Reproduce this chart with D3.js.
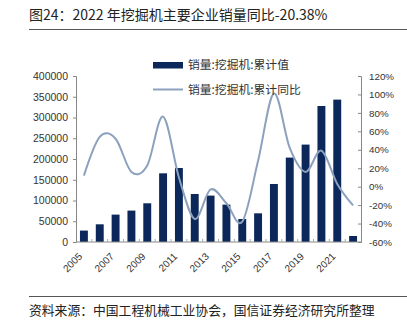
<!DOCTYPE html>
<html>
<head>
<meta charset="utf-8">
<script src="https://cdn.jsdelivr.net/npm/d3@7"></script>
<style>
  body { margin: 0; background: #fff; }
  svg { display: block; }
</style>
</head>
<body>
<svg id="chart" width="407" height="329"></svg>
<script>
const years = d3.range(2005, 2023).map(String);
const salesValues = [27500, 42600, 66000, 75700, 93300, 165500, 178300, 115700, 111800, 90100,
  55400, 69100, 139800, 203400, 234700, 327700, 343100, 14500];
const yoyValues = [12, 54, 52, 16, 23, 76, 10, -35, -3, -18, -38, 28, 101, 42, 16, 39, 3, -20.38];
const leftTicks = d3.range(0, 400001, 50000);
const rightTicks = d3.range(-60, 121, 20);
const xLabelYears = ['2005', '2007', '2009', '2011', '2013', '2015', '2017', '2019', '2021'];

const barColor = '#0c2759';
const lineColor = '#8ca1bd';
const textColor = '#333';
const cjk = '"Noto Sans CJK SC", sans-serif';
const latin = '"Liberation Sans", Arial, sans-serif';

const svg = d3.select('#chart');

// title + rules
svg.append('text')
  .attr('x', 29).attr('y', 20)
  .attr('font-family', cjk).attr('font-size', 14).attr('fill', '#222')
  .text('图24：2022 年挖掘机主要企业销量同比-20.38%');
svg.append('line').attr('x1', 29).attr('x2', 407).attr('y1', 29.5).attr('y2', 29.5)
  .attr('stroke', '#555').attr('stroke-width', 1);
svg.append('line').attr('x1', 29).attr('x2', 407).attr('y1', 296.5).attr('y2', 296.5)
  .attr('stroke', '#555').attr('stroke-width', 1);
svg.append('text')
  .attr('x', 29).attr('y', 315)
  .attr('font-family', cjk).attr('font-size', 12.8).attr('fill', '#222')
  .text('资料来源：中国工程机械工业协会，国信证券经济研究所整理');

const plot = { left: 76, right: 361, top: 76, bottom: 242 };

const x = d3.scaleBand().domain(years).range([plot.left, plot.right]).paddingInner(0.5).paddingOuter(0.25);
const yL = d3.scaleLinear().domain([0, 400000]).range([plot.bottom, plot.top]);
const yR = d3.scaleLinear().domain([-60, 120]).range([plot.bottom, plot.top]);

// bars
svg.append('g').selectAll('rect')
  .data(salesValues)
  .join('rect')
  .attr('x', (d, i) => x(years[i]))
  .attr('width', x.bandwidth())
  .attr('y', d => yL(d))
  .attr('height', d => yL(0) - yL(d))
  .attr('fill', barColor);

// line
const line = d3.line()
  .x((d, i) => x(years[i]) + x.bandwidth() / 2)
  .y(d => yR(d))
  .curve(d3.curveCatmullRom.alpha(0));
svg.append('path')
  .datum(yoyValues)
  .attr('d', line)
  .attr('fill', 'none')
  .attr('stroke', lineColor)
  .attr('stroke-width', 2);

// axes
const leftAxis = svg.append('g')
  .attr('transform', `translate(${plot.left},0)`)
  .call(d3.axisLeft(yL).tickValues(leftTicks).tickSize(3).tickPadding(5).tickFormat(d3.format('d')));
const rightAxis = svg.append('g')
  .attr('transform', `translate(${plot.right},0)`)
  .call(d3.axisRight(yR).tickValues(rightTicks).tickSize(-3).tickPadding(8).tickFormat(d => d + '%'));
[leftAxis, rightAxis].forEach(g => {
  g.select('.domain').attr('stroke', '#888');
  g.selectAll('.tick line').attr('stroke', '#888');
  g.selectAll('.tick text').attr('fill', textColor).attr('font-family', latin);
});
leftAxis.selectAll('.tick text').attr('font-size', 10.5);
rightAxis.selectAll('.tick text').attr('font-size', 9.8);

// x axis
const xStep = x.step();
const bottomAxis = svg.append('g').attr('transform', `translate(0,${plot.bottom})`);
bottomAxis.append('line')
  .attr('x1', plot.left).attr('x2', plot.right)
  .attr('stroke', '#888');
bottomAxis.selectAll('line.cat')
  .data(years.slice(1))
  .join('line')
  .attr('class', 'cat')
  .attr('x1', d => x(d) - (xStep - x.bandwidth()) / 2)
  .attr('x2', d => x(d) - (xStep - x.bandwidth()) / 2)
  .attr('y1', 0).attr('y2', -3)
  .attr('stroke', '#aaa');
bottomAxis.selectAll('text')
  .data(xLabelYears)
  .join('text')
  .attr('transform', d => `translate(${x(d) + x.bandwidth() / 2 - 1},${15}) rotate(-45)`)
  .attr('text-anchor', 'end')
  .attr('font-family', latin).attr('font-size', 10).attr('fill', textColor)
  .text(d => d);

// legend
const legend = svg.append('g').attr('font-family', cjk).attr('font-size', 11.8).attr('fill', textColor);
legend.append('rect').attr('x', 153).attr('y', 62).attr('width', 30).attr('height', 6.5).attr('fill', barColor);
legend.append('text').attr('x', 188).attr('y', 69).text('销量:挖掘机:累计值');
legend.append('line').attr('x1', 153).attr('x2', 183).attr('y1', 89.5).attr('y2', 89.5)
  .attr('stroke', lineColor).attr('stroke-width', 2);
legend.append('text').attr('x', 188).attr('y', 94).text('销量:挖掘机:累计同比');
</script>
</body>
</html>
